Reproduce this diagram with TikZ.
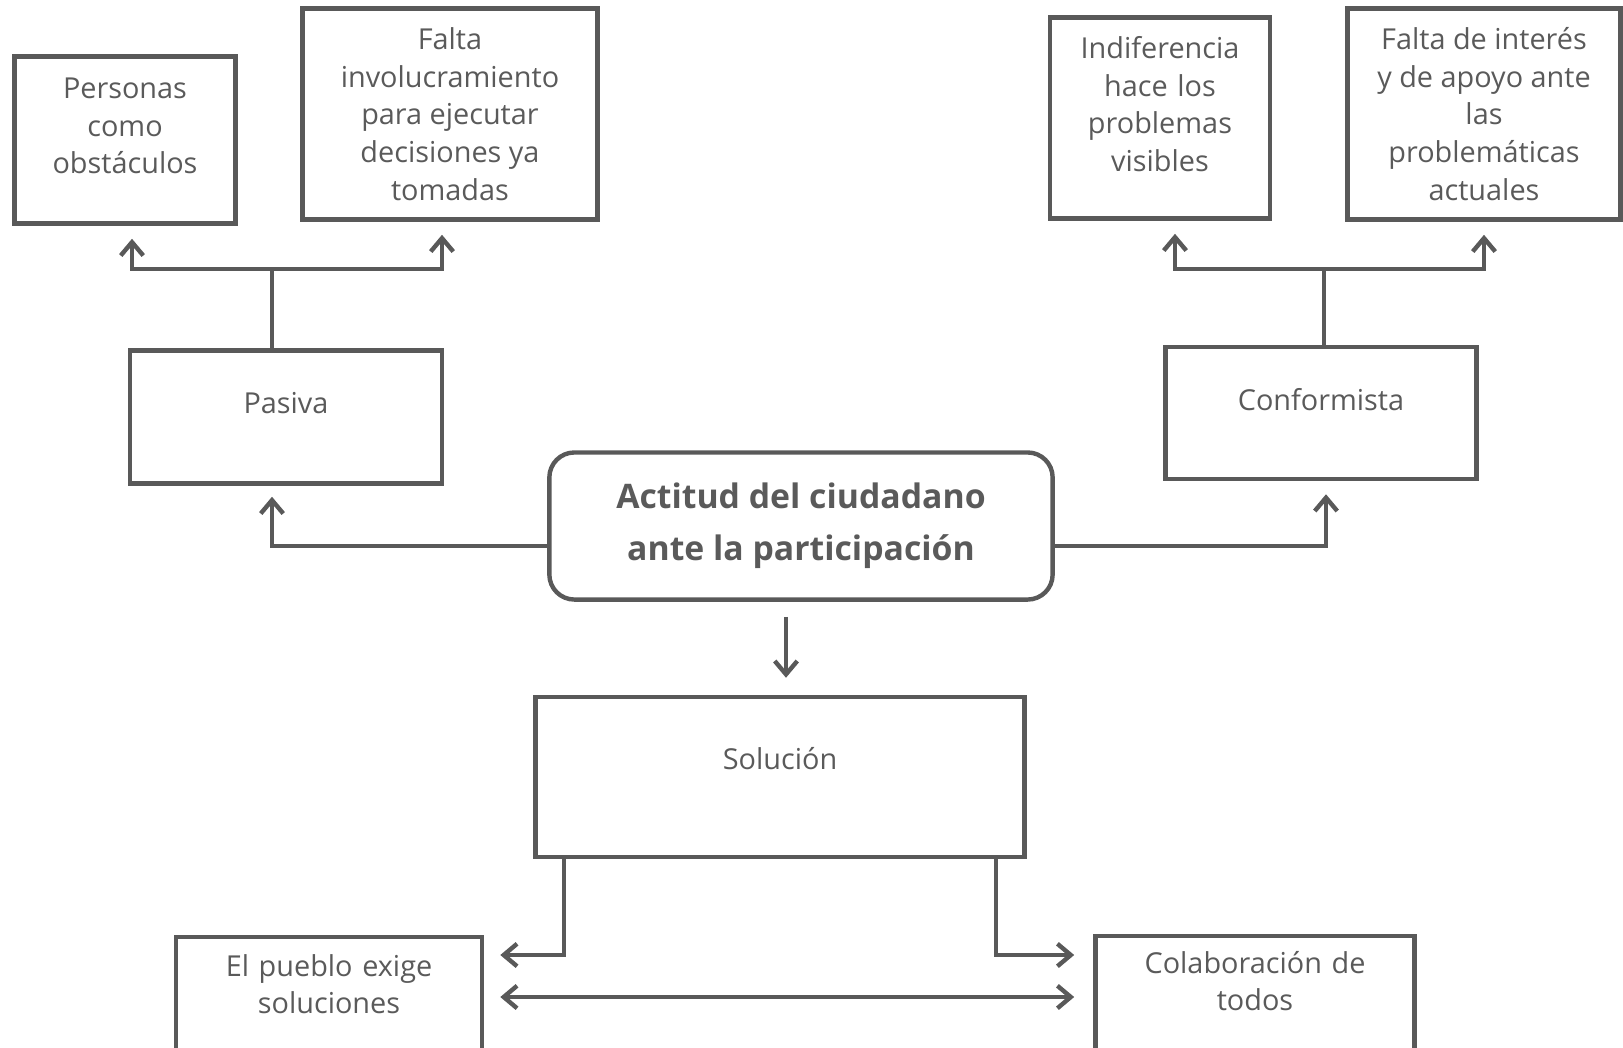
\documentclass[tikz,border=0pt]{standalone}
\usepackage{fontspec}
\setmainfont{Open Sans}
\usepackage{xcolor}
\definecolor{cline}{HTML}{595959}
\definecolor{ctext}{HTML}{5A5A5A}
\usepackage{tikz}
\usetikzlibrary{positioning,arrows.meta,calc}

\begin{document}
\begin{tikzpicture}[x=0.01cm, y=-0.01cm, >={Straight Barb[length=3.8pt,width=6.4pt]},
  font=\fontsize{8.2}{10.7}\selectfont, text=ctext,
  box/.style={draw=cline, line width=1.25pt, inner sep=0pt, align=center},
  conn/.style={draw=cline, line width=1.25pt},
  arr/.style={conn, ->, shorten >=0.13cm}]
  \useasboundingbox (0,0) rectangle (1623,1047);
  \clip (0,0) rectangle (1623,1047);
  % left branch
  \node[box, text width=2.21cm, text height=0.42cm, text depth=1.25cm] (pers) at (125,140) {Personas\\como\\obstáculos};
  \node[box, minimum width=2.95cm, minimum height=2.11cm] (falta) at (450,114) {Falta\\involucramiento\\para ejecutar\\decisiones ya\\tomadas};
  \node[box, minimum width=3.12cm, text height=0.63cm, text depth=0.70cm] (pas) at (286,417) {Pasiva};
  % right branch
  \node[box, text width=2.20cm, text height=0.41cm, text depth=1.60cm] (indif) at (1160,118) {Indiferencia\\hace los\\problemas\\visibles};
  \node[box, minimum width=2.73cm, minimum height=2.11cm] (inter) at (1484,114) {Falta de interés\\y de apoyo ante\\las\\problemáticas\\actuales};
  \node[box, minimum width=3.11cm, text height=0.63cm, text depth=0.69cm] (conf) at (1321,413) {Conformista};
  % centre
  \node[box, rounded corners=0.25cm, minimum width=5.03cm, minimum height=1.47cm,
    font=\fontsize{9.6}{14.7}\selectfont\bfseries] (act) at (801,526) {Actitud del ciudadano\\ante la participación};
  \node[box, minimum width=4.89cm, text height=0.72cm, text depth=0.88cm] (sol) at (780,777) {Solución};
  % bottom
  \node[box, anchor=north, text width=3.06cm, text height=0.39cm, text depth=1.2cm] (pueb) at (329,935) {El pueblo exige\\soluciones};
  \node[box, anchor=north, text width=3.19cm, text height=0.37cm, text depth=1.2cm] (colab) at (1255,934) {Colaboración de\\todos};

  \coordinate (pasj) at ($(pas.north)+(-14,-79)$);
  \draw[conn] ($(pas.north)+(-14,0)$) -- (pasj);
  \draw[arr] (pasj) -| ($(pers.south)+(7,0)$);
  \draw[arr] (pasj) -| ($(falta.south)+(-8,0)$);

  \coordinate (confj) at ($(conf.north)+(3,-76)$);
  \draw[conn] ($(conf.north)+(3,0)$) -- (confj);
  \draw[arr] (confj) -| ($(indif.south)+(15,0)$);
  \draw[arr] (confj) -| (inter.south);

  \draw[arr, shorten >=0.11cm] ($(act.west)+(0,20)$) -| ($(pas.south)+(-14,0)$);
  \draw[arr, shorten >=0.13cm] ($(act.east)+(0,20)$) -| ($(conf.south)+(5,0)$);
  \draw[arr, shorten <=0.15cm, shorten >=0.17cm] ($(act.south)+(-15,0)$) -- ($(sol.north)+(6,0)$);

  \draw[arr, shorten >=0.16cm] ($(sol.south)+(-216,0)$) |- ($(pueb.north east)+(0,20)$);
  \draw[arr, shorten >=0.19cm] ($(sol.south)+(216,0)$) |- ($(colab.north west)+(0,21)$);
  \draw[conn, <->, shorten <=0.16cm, shorten >=0.19cm] ($(pueb.north east)+(0,62)$) -- ($(colab.north west)+(0,63)$);
\end{tikzpicture}
\end{document}
